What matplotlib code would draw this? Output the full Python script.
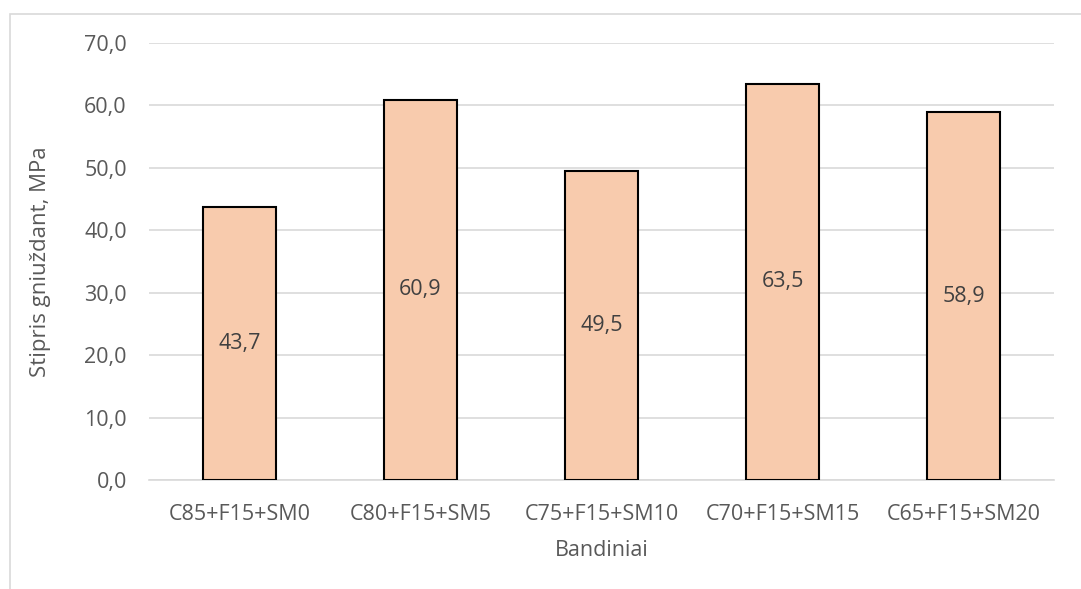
import matplotlib.pyplot as plt
from matplotlib.patches import Rectangle

# Bandiniai ir gniuždymo stipris
samples = ["C85+F15+SM0", "C80+F15+SM5", "C75+F15+SM10", "C70+F15+SM15", "C65+F15+SM20"]
strength = [43.7, 60.9, 49.5, 63.5, 58.9]
yticks = [0, 10, 20, 30, 40, 50, 60, 70]

plt.rcParams['font.family'] = ['Open Sans', 'DejaVu Sans']
txt = '#595959'
fs = 15.5

fig = plt.figure(figsize=(10.81, 5.89), dpi=100)
ax = fig.add_axes([149/1081, 1 - 480/589, (1054-149)/1081, (480-43)/589])

# rėmelis aplink diagramą
fig.patches.append(Rectangle((10/1081, -0.1), 1.2, 1 - 14/589 + 0.1, transform=fig.transFigure,
                             fill=False, edgecolor='#d9d9d9', linewidth=1.2))

x = range(len(samples))
ax.bar(x, strength, width=0.4, color='#F8CBAD', edgecolor='black', linewidth=1.5, zorder=3)
for i, v in enumerate(strength):
    ax.text(i, v / 2, f"{v:.1f}".replace('.', ','), ha='center', va='center',
            fontsize=fs, color='#404040', zorder=4)

ax.set_xlim(-0.5, len(samples) - 0.5)
ax.set_ylim(0, 70)
ax.set_yticks(yticks)
ax.set_yticklabels([f"{t:.1f}".replace('.', ',') for t in yticks])
ax.set_xticks(list(x))
ax.set_xticklabels(samples)
ax.tick_params(length=0, labelsize=fs, colors=txt, pad=17)
ax.tick_params(axis='y', pad=16)
ax.grid(axis='y', color='#d9d9d9', linewidth=1.2, zorder=0)
for s in ['top', 'right', 'left']:
    ax.spines[s].set_visible(False)
ax.spines['bottom'].set_color('#d9d9d9')
ax.spines['bottom'].set_linewidth(1.2)

ax.set_xlabel("Bandiniai", fontsize=fs, color=txt, labelpad=11)
ax.set_ylabel("Stipris gniuždant, MPa", fontsize=16, color=txt, labelpad=24)

fig.savefig("out.png", dpi=100)
